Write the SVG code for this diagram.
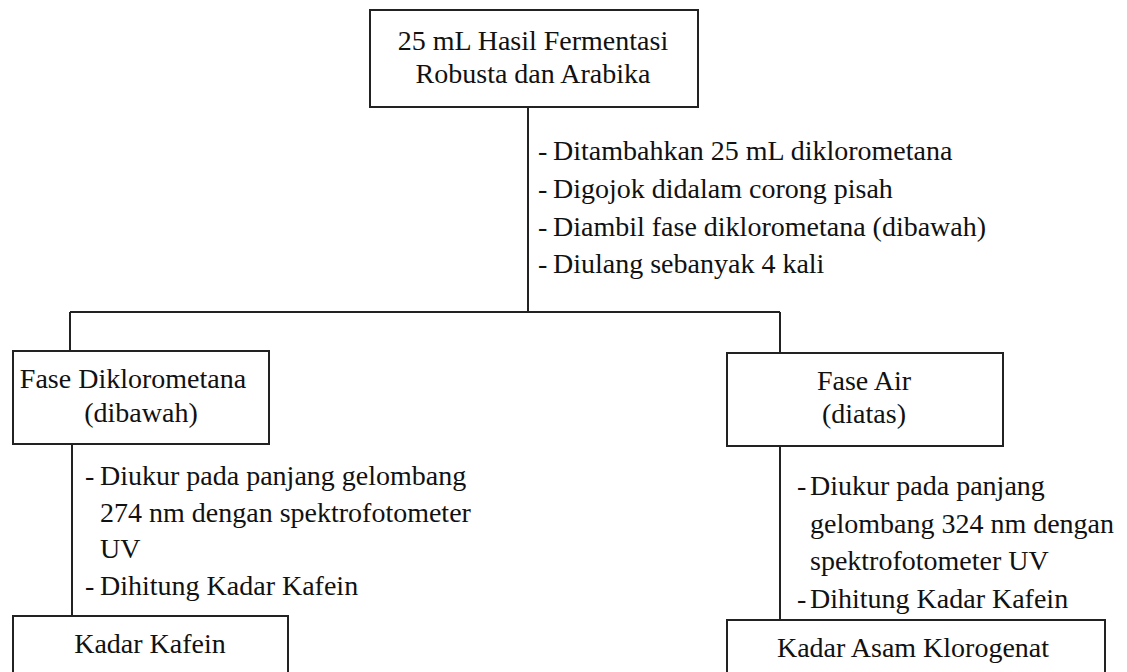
<svg xmlns="http://www.w3.org/2000/svg" width="1127" height="672" viewBox="0 0 1127 672">
<style>
.t{font-size:28px;fill:#111}
.c{text-anchor:middle}
.box{fill:#fff;stroke:#222;stroke-width:2}
.ln{stroke:#222;stroke-width:2;fill:none}
</style>
<rect width="1127" height="672" fill="#fff"/>
<g id="connectors">
<line class="ln" x1="528" y1="107" x2="528" y2="312"/>
<line class="ln" x1="70" y1="312" x2="780" y2="312"/>
<line class="ln" x1="70" y1="312" x2="70" y2="351"/>
<line class="ln" x1="780" y1="312" x2="780" y2="353"/>
<line class="ln" x1="72" y1="444" x2="72" y2="616"/>
<line class="ln" x1="780" y1="446" x2="780" y2="620"/>
</g>
<g font-family="Liberation Serif, Times New Roman, Tinos, DejaVu Serif, serif">
<g id="labels" class="t">
<text x="538" y="160">-</text><text x="553" y="160">Ditambahkan 25 mL diklorometana</text>
<text x="538" y="198">-</text><text x="553" y="198">Digojok didalam corong pisah</text>
<text x="538" y="236">-</text><text x="553" y="236">Diambil fase diklorometana (dibawah)</text>
<text x="538" y="273">-</text><text x="553" y="273">Diulang sebanyak 4 kali</text>
<text x="85" y="485">-</text><text x="100" y="485">Diukur pada panjang gelombang</text>
<text x="100" y="522">274 nm dengan spektrofotometer</text>
<text x="100" y="558">UV</text>
<text x="85" y="595">-</text><text x="100" y="595">Dihitung Kadar Kafein</text>
<text x="797" y="495">-</text><text x="810" y="495">Diukur pada panjang</text>
<text x="810" y="533">gelombang 324 nm  dengan</text>
<text x="810" y="570">spektrofotometer UV</text>
<text x="797" y="608">-</text><text x="810" y="608">Dihitung Kadar Kafein</text>
</g>
<g id="node-top" class="t">
<rect class="box" x="370" y="10" width="328" height="97"/>
<text class="c" x="533" y="50">25 mL Hasil Fermentasi</text>
<text class="c" x="533" y="83">Robusta dan Arabika</text>
</g>
<g id="node-dcm" class="t">
<rect class="box" x="13" y="351" width="256" height="93"/>
<text class="c" x="133" y="388">Fase Diklorometana</text>
<text class="c" x="141" y="422">(dibawah)</text>
</g>
<g id="node-air" class="t">
<rect class="box" x="727" y="353" width="276" height="93"/>
<text class="c" x="864" y="390">Fase Air</text>
<text class="c" x="864" y="423">(diatas)</text>
</g>
<g id="node-kafein" class="t">
<rect class="box" x="13" y="616" width="275" height="70"/>
<text class="c" x="150" y="653">Kadar Kafein</text>
</g>
<g id="node-klorogenat" class="t">
<rect class="box" x="727" y="620" width="378" height="70"/>
<text class="c" x="913" y="657">Kadar Asam Klorogenat</text>
</g>
</g>
</svg>
